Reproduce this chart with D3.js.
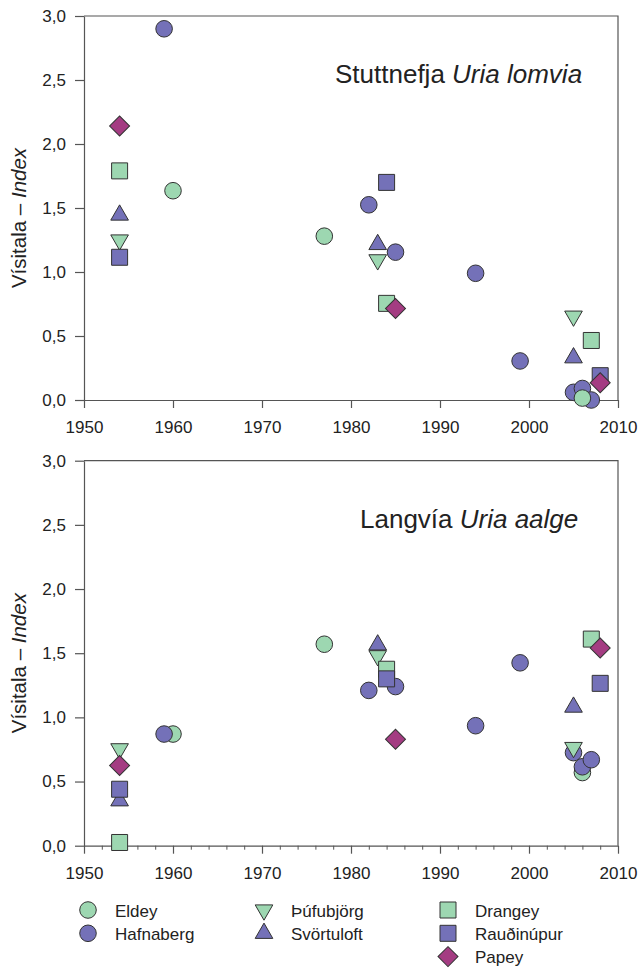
<!DOCTYPE html>
<html>
<head>
<meta charset="utf-8">
<script src="https://cdn.jsdelivr.net/npm/d3@7"></script>
<style>
  body { margin: 0; background: #fff; }
  text { font-family: "Liberation Sans", Arial, sans-serif; fill: #222; }
</style>
</head>
<body>
<div id="chart"></div>
<script>
// colonies, in legend / drawing order
const colonies = ["Eldey", "Hafnaberg", "Þúfubjörg", "Svörtuloft", "Drangey", "Rauðinúpur", "Papey"];
const xTicks = [1950, 1960, 1970, 1980, 1990, 2000, 2010];
const yTicks = [0, 0.5, 1, 1.5, 2, 2.5, 3];

// Stuttnefja (Uria lomvia) - [year, index]
const lomviaEldey      = [[1960, 1.635], [1977, 1.28], [2006, 0.015]];
const lomviaHafnaberg  = [[1959, 2.90], [1982, 1.525], [1985, 1.155], [1994, 0.99], [1999, 0.305], [2005, 0.06], [2006, 0.09], [2007, 0.0]];
const lomviaThufu      = [[1954, 1.25], [1983, 1.095], [2005, 0.655]];
const lomviaSvortu     = [[1954, 1.445], [1983, 1.215], [2005, 0.33]];
const lomviaDrangey    = [[1954, 1.79], [1984, 0.755], [2007, 0.465]];
const lomviaRaudi      = [[1954, 1.115], [1984, 1.70], [2008, 0.19]];
const lomviaPapey      = [[1954, 2.14], [1985, 0.715], [2008, 0.135]];

// Langvía (Uria aalge)
const aalgeEldey       = [[1960, 0.87], [1977, 1.57], [2006, 0.57]];
const aalgeHafnaberg   = [[1959, 0.87], [1982, 1.21], [1985, 1.24], [1994, 0.935], [1999, 1.425], [2005, 0.725], [2006, 0.615], [2007, 0.67]];
const aalgeThufu       = [[1954, 0.755], [1983, 1.48], [2005, 0.765]];
const aalgeSvortu      = [[1954, 0.35], [1983, 1.565], [2005, 1.08]];
const aalgeDrangey     = [[1954, 0.025], [1984, 1.375], [2007, 1.61]];
const aalgeRaudi       = [[1954, 0.44], [1984, 1.30], [2008, 1.265]];
const aalgePapey       = [[1954, 0.625], [1985, 0.83], [2008, 1.54]];

const width = 641, height = 968;
const green = "#9dd7b1", purple = "#7471b8", magenta = "#a43c82";

// marker style per colony
const styles = {
  "Eldey":      { type: d3.symbolCircle, size: 216, fill: green, rot: 0 },
  "Hafnaberg":  { type: d3.symbolCircle, size: 216, fill: purple, rot: 0 },
  "Þúfubjörg":  { type: d3.symbolTriangle, size: 135, fill: green, rot: 180 },
  "Svörtuloft": { type: d3.symbolTriangle, size: 135, fill: purple, rot: 0 },
  "Drangey":    { type: d3.symbolSquare, size: 256, fill: green, rot: 0 },
  "Rauðinúpur": { type: d3.symbolSquare, size: 256, fill: purple, rot: 0 },
  "Papey":      { type: d3.symbolSquare, size: 200, fill: magenta, rot: 45 }
};

const svg = d3.select("#chart").append("svg")
  .attr("width", width)
  .attr("height", height);

const x = d3.scaleLinear().domain([1950, 2010]).range([84, 618]);

function drawMarker(g, name, px, py) {
  const s = styles[name];
  g.append("path")
    .attr("d", d3.symbol().type(s.type).size(s.size)())
    .attr("transform", `translate(${px},${py}) rotate(${s.rot})`)
    .attr("fill", s.fill)
    .attr("stroke", "#333")
    .attr("stroke-width", 1);
}

function panel(y0, y1, title, latin, series, order, minor, tx, ty) {
  const y = d3.scaleLinear().domain([0, 3]).range([y0, y1]);
  const g = svg.append("g");

  // frame (top + right)
  g.append("path")
    .attr("d", `M${x(1950)},${y(3)}H${x(2010)}V${y(0)}`)
    .attr("fill", "none")
    .attr("stroke", "#555")
    .attr("stroke-width", 1.2);

  if (minor) {
    g.append("g")
      .attr("transform", `translate(0,${y(0)})`)
      .call(d3.axisBottom(x)
        .tickValues(d3.range(1952, 2010, 2).filter(v => v % 10 != 0))
        .tickSize(4).tickSizeOuter(0).tickFormat(""))
      .call(a => a.select(".domain").remove())
      .call(a => a.selectAll("line").attr("stroke", "#555"));
  }

  const xa = g.append("g")
    .attr("transform", `translate(0,${y(0)})`)
    .call(d3.axisBottom(x).tickValues(xTicks).tickFormat(d3.format("d"))
      .tickSize(8).tickSizeOuter(0).tickPadding(13));
  const ya = g.append("g")
    .attr("transform", `translate(${x(1950)},0)`)
    .call(d3.axisLeft(y).tickValues(yTicks)
      .tickFormat(d => d.toFixed(1).replace(".", ","))
      .tickSize(9).tickSizeOuter(0).tickPadding(9));
  [xa, ya].forEach(a => {
    a.selectAll("text").attr("font-size", 17).attr("font-family", null).attr("fill", "#222");
    a.selectAll("line, .domain").attr("stroke", "#555").attr("stroke-width", 1.2);
  });

  // y label
  const yl = g.append("text")
    .attr("transform", `translate(26,${(y(0) + y(3)) / 2 + 10}) rotate(-90)`)
    .attr("text-anchor", "middle")
    .attr("font-size", 20.5);
  yl.append("tspan").text("Vísitala – ");
  yl.append("tspan").attr("font-style", "italic").text("Index");

  // title
  const t = g.append("text")
    .attr("x", tx).attr("y", ty)
    .attr("font-size", 26);
  t.append("tspan").text(title + " ");
  t.append("tspan").attr("font-style", "italic").text(latin);

  order.forEach(name => {
    series[name].forEach(d => drawMarker(g, name, x(d[0]), y(d[1])));
  });
}

panel(400, 16, "Stuttnefja", "Uria lomvia", {
  "Eldey": lomviaEldey, "Hafnaberg": lomviaHafnaberg, "Þúfubjörg": lomviaThufu,
  "Svörtuloft": lomviaSvortu, "Drangey": lomviaDrangey, "Rauðinúpur": lomviaRaudi, "Papey": lomviaPapey
}, ["Hafnaberg", "Eldey", "Þúfubjörg", "Svörtuloft", "Drangey", "Rauðinúpur", "Papey"], false, 335, 83);

panel(845.7, 460.7, "Langvía", "Uria aalge", {
  "Eldey": aalgeEldey, "Hafnaberg": aalgeHafnaberg, "Þúfubjörg": aalgeThufu,
  "Svörtuloft": aalgeSvortu, "Drangey": aalgeDrangey, "Rauðinúpur": aalgeRaudi, "Papey": aalgePapey
}, colonies, true, 360, 528);

// legend: three columns
const legendCols = [88, 264, 448];
const legendRows = [[0, 0], [0, 1], [1, 0], [1, 1], [2, 0], [2, 1], [2, 2]];
const leg = svg.append("g");
colonies.forEach((name, i) => {
  const [c, r] = legendRows[i];
  const lx = legendCols[c], ly = 910 + r * 23.3;
  drawMarker(leg, name, lx, ly);
  leg.append("text")
    .attr("x", lx + 27).attr("y", ly + 6.5)
    .attr("font-size", 17)
    .text(name);
});
</script>
</body>
</html>
